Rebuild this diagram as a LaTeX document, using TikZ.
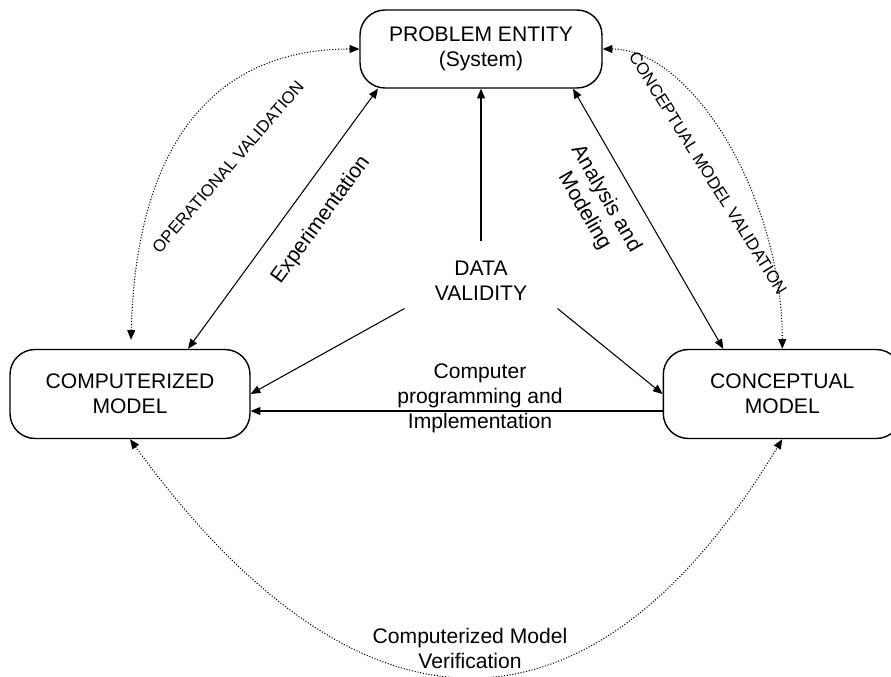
\documentclass[tikz,border=0pt]{standalone}
\usepackage{fontspec}
\setmainfont{Liberation Sans}
\usetikzlibrary{calc,positioning,arrows.meta}

\begin{document}
\begin{tikzpicture}[x=0.02cm,y=0.02cm,>={Triangle[length=5.5pt,width=4.5pt]},semithick,font=\fontsize{12}{14.2}\selectfont]
	\tikzstyle{modelbox}=[draw,line width=0.8pt,rectangle,rounded corners=0.5cm,align=center,minimum height=1.78cm]
	\tikzstyle{valid}=[<->,densely dotted,line width=0.6pt]
	\tikzstyle{smalllabel}=[font=\fontsize{9.6}{11}\selectfont]

	\useasboundingbox (0,0) rectangle (891,-676);

	\node[modelbox,minimum width=4.8cm] (comp) at (130,-394) {COMPUTERIZED\\MODEL};
	\node[modelbox,minimum width=4.76cm] (conc) [right=8.24cm of comp] {CONCEPTUAL\\MODEL};
	\node[modelbox,minimum width=4.84cm,minimum height=1.56cm] (pe) at (481,-49) {PROBLEM ENTITY\\(System)};
	\node[align=center,minimum width=3.04cm,minimum height=1.56cm] (dv) at (481,-281) {DATA\\VALIDITY};

	\draw[->] (dv.north) -- (pe.south);
	\draw[->] ($(dv.south west)+(0,12)$) -- (comp.east);
	\draw[->] ($(dv.south east)+(0,12)$) -- (conc.west);
	\draw[->] ($(conc.west)+(0,-17)$) -- ($(comp.east)+(0,-17)$);
	\draw[<->] ($(comp.north)+(58,0)$) -- ($(pe.south)+(-103,0)$);
	\draw[<->] ($(pe.south)+(92,0)$) -- ($(conc.north)+(-59,0)$);

	\draw[valid] ($(comp.north)+(1,9)$) .. controls +(5,190) and +(-150,0) .. (pe.west);
	\draw[valid] (pe.east) .. controls +(90,0) and +(0,150) .. (conc.north);
	\draw[valid] (comp.south) .. controls +(230,-316) and +(-191,-316) .. (conc.south);

	\node[smalllabel,rotate=49] (opval) at (228,-167) {OPERATIONAL VALIDATION};
	\node[smalllabel,rotate=-58] (cmval) at (708,-173) {CONCEPTUAL MODEL VALIDATION};
	\node[rotate=54] (exp) at (321,-220) {Experimentation};
	\node[rotate=-60,align=center] (ana) at (595,-205) {Analysis and\\Modeling};
	\node[align=center] (impl) at (480,-398) {Computer\\programming and\\Implementation};
	\node[align=center] (verif) at (470,-648) {Computerized Model\\Verification};

\end{tikzpicture}
\end{document}
